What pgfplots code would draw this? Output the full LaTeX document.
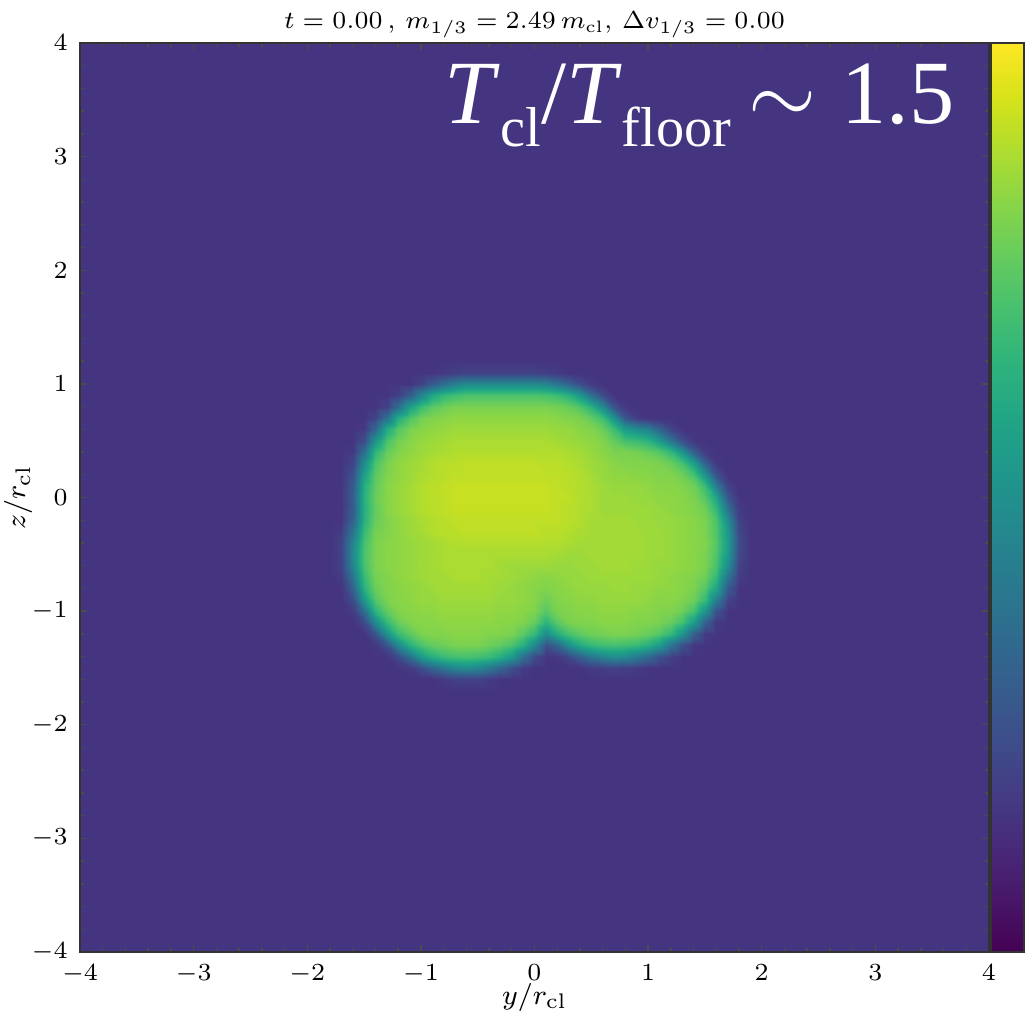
\documentclass[border=0pt]{standalone}
\usepackage{fontspec}
\usepackage{pgfplots}
\pgfplotsset{compat=1.18}
\newfontfamily\timesfont{Liberation Serif}
\newcommand{\lowsub}[1]{\raisebox{-6.4pt}{\fontsize{16}{16}\selectfont #1}}

\begin{document}
\begin{tikzpicture}
\begin{axis}[
  scale only axis, width=9.09cm, height=9.09cm,
  xmin=-4, xmax=4, ymin=-4, ymax=4,
  xtick={-4,-3,...,4}, ytick={-4,-3,...,4}, minor tick num=4,
  xtick pos=both, ytick pos=both, tick align=inside,
  major tick length=0.07cm, minor tick length=0.04cm,
  every tick/.style={black!70, line width=0.4pt},
  axis line style={black!80, line width=0.5pt},
  tick label style={font=\fontsize{7.2}{8}\selectfont},
  label style={font=\fontsize{8}{9}\selectfont},
  title style={font=\fontsize{6.7}{8}\selectfont, at={(0.5,1)}, anchor=base, yshift=-0.07cm},
  title={$t=0.00\,,\,m_{1/3}=2.49\,m_{\rm cl},\,\Delta v_{1/3}=0.00$},
  xlabel={$y/r_{\rm cl}$}, ylabel={$z/r_{\rm cl}$},
  xlabel style={at={(axis description cs:0.5,-0.0495)}, anchor=center},
  ylabel style={at={(axis description cs:-0.068,0.5)}, anchor=center},
  colormap/viridis, point meta min=3.5, point meta max=99,
  colorbar,
  colorbar style={
    at={(parent axis.north east)}, anchor=north west, xshift=-0.28cm,
    width=0.33cm, ytick=\empty,
    minor ytick={8.23,11.9,15.25,17.73,20.31,22.6,36.99,62.23,64.33,66.24,68.34,70.25,84.96,93.37},
    ytick pos=right, tick align=inside,
    minor tick length=0.06cm,
    every tick/.style={black!70, line width=0.4pt},
    axis line style={black!80, line width=0.5pt},
  },
  axis on top,
]
% constant floor value over the whole box
\addplot[surf, shader=interp, point meta=explicit] coordinates {
(-4,-4) [18] (4,-4) [18]

(-4,4) [18] (4,4) [18]
};
% field, 0.1 grid, y=-1.8..1.9, z=-1.7..1.2
\addplot[surf, shader=interp, point meta=explicit]
  table[header=false, meta index=0,
    x expr={-1.8+0.1*mod(\coordindex,38)},
    y expr={-1.7+0.1*floor(\coordindex/38)}] {
18
18
18
18
18
18
18
18
18
18
18
18
18
18
18
18
18
18
18
18
18
18
18
18
18
18
18
18
18
18
18
18
18
18
18
18
18
18

18
18
18
18
18
18
18
18
18
18
20
22
22
22
20
18
18
18
18
18
18
18
18
18
18
18
18
18
18
18
18
18
18
18
18
18
18
18

18
18
18
18
18
18
18
20
26
34
41
47
49
47
41
34
26
20
18
18
18
18
18
20
21
22
21
20
18
18
18
18
18
18
18
18
18
18

18
18
18
18
18
18
25
38
54
63
68
70
71
70
68
63
54
38
25
18
19
24
32
40
46
49
48
42
35
27
21
18
18
18
18
18
18
18

18
18
18
18
19
28
49
64
72
76
78
80
80
80
78
76
72
64
49
28
35
51
62
67
70
71
70
68
64
56
40
27
19
18
18
18
18
18

18
18
18
18
28
52
68
75
80
81
81
82
82
82
81
81
80
75
68
50
62
71
75
78
79
80
80
79
77
74
67
53
32
20
18
18
18
18

18
18
18
25
49
68
77
81
82
82
83
83
83
83
83
82
82
81
77
66
75
80
81
81
82
82
82
81
81
80
77
71
56
33
19
18
18
18

18
18
20
38
65
76
81
82
83
83
84
84
84
84
84
83
83
82
81
74
80
81
82
82
83
83
83
82
82
81
81
78
71
53
28
18
18
18

18
18
26
54
73
80
82
83
84
84
85
85
85
85
85
84
84
83
82
78
81
82
83
83
84
84
84
84
83
82
82
81
78
68
44
22
18
18

18
18
34
64
77
81
82
83
84
85
86
86
86
86
86
85
84
83
82
81
82
83
84
84
84
85
85
84
84
83
83
82
80
74
60
30
18
18

18
20
41
68
79
81
83
84
85
86
86
87
87
87
86
86
85
84
83
82
83
84
84
85
85
85
85
85
85
84
83
82
81
78
67
39
20
18

18
22
47
71
80
82
83
84
85
86
87
87
87
87
87
86
85
85
85
85
84
84
85
85
86
86
86
85
85
84
84
83
82
80
72
49
22
18

18
22
49
72
80
82
83
84
85
86
87
87
87
87
87
87
87
87
87
87
86
85
85
86
86
86
86
86
85
85
84
83
82
80
73
54
24
18

18
22
47
71
80
82
83
84
85
86
87
88
88
88
88
88
88
88
88
88
88
87
86
86
86
86
86
86
85
85
84
83
82
81
74
55
25
18

18
20
41
68
79
81
83
85
86
88
89
89
90
90
90
90
90
90
90
89
89
88
87
86
86
86
86
86
85
85
84
83
82
80
73
54
24
18

18
18
34
64
77
81
83
85
87
88
89
90
90
90
90
90
90
90
90
90
90
89
88
86
86
86
86
85
85
84
84
83
82
80
72
49
22
18

18
18
31
63
76
82
84
86
88
89
90
91
91
91
91
91
91
91
91
91
90
89
88
87
85
85
85
85
85
84
83
82
81
78
67
39
20
18

18
18
32
64
77
82
84
86
88
89
90
91
91
91
91
91
91
91
91
91
90
90
88
87
85
85
85
84
84
83
83
82
80
74
60
30
18
18

18
18
31
63
76
82
84
86
88
89
90
91
91
91
91
91
91
91
91
91
90
89
88
87
85
84
84
84
83
82
82
81
78
68
44
22
18
18

18
18
27
58
75
81
83
85
87
88
89
90
90
90
90
90
90
90
90
90
90
89
88
86
84
83
83
82
82
81
81
78
71
53
28
18
18
18

18
18
23
50
72
80
83
85
86
88
89
89
90
90
90
90
90
90
90
89
89
88
87
85
84
82
81
81
81
80
77
71
56
33
19
18
18
18

18
18
19
38
66
77
81
83
85
86
87
88
88
88
88
88
88
88
88
88
88
87
86
84
82
80
80
79
77
74
67
53
32
20
18
18
18
18

18
18
18
26
53
72
79
82
84
85
86
87
87
87
87
87
87
87
87
87
86
85
84
83
81
76
71
69
65
56
41
27
19
18
18
18
18
18

18
18
18
19
35
62
74
80
82
83
84
85
85
85
85
85
85
85
85
85
84
84
82
81
77
69
55
50
45
34
23
18
18
18
18
18
18
18

18
18
18
18
22
39
63
73
79
81
82
83
83
83
83
83
83
83
83
83
82
81
80
76
69
52
29
20
18
18
18
18
18
18
18
18
18
18

18
18
18
18
18
22
38
58
69
75
78
80
80
80
80
80
80
80
80
80
79
77
73
65
49
28
19
18
18
18
18
18
18
18
18
18
18
18

18
18
18
18
18
18
21
31
47
60
67
70
72
72
72
72
72
72
72
71
69
64
54
38
25
18
18
18
18
18
18
18
18
18
18
18
18
18

18
18
18
18
18
18
18
18
22
30
38
45
49
49
49
49
49
49
49
47
41
34
26
20
18
18
18
18
18
18
18
18
18
18
18
18
18
18

18
18
18
18
18
18
18
18
18
18
19
21
22
22
22
22
22
22
22
21
20
18
18
18
18
18
18
18
18
18
18
18
18
18
18
18
18
18

18
18
18
18
18
18
18
18
18
18
18
18
18
18
18
18
18
18
18
18
18
18
18
18
18
18
18
18
18
18
18
18
18
18
18
18
18
18
};
\coordinate (ll) at (rel axis cs:0,0);
\coordinate (ur) at (rel axis cs:1,1);
\node[anchor=base east, text=white, inner sep=0pt,
  font=\fontsize{25.7}{30}\selectfont\timesfont] at (axis cs:3.70,3.29)
  {\textit{T}\lowsub{cl}/\textit{T}\lowsub{floor}\hspace{5pt}$\sim$\hspace{7pt}1.5};
\end{axis}
\pgfresetboundingbox
\useasboundingbox ([shift={(-0.80cm,-0.71cm)}]ll) rectangle ([shift={(0.36cm,0.43cm)}]ur);
\end{tikzpicture}
\end{document}
